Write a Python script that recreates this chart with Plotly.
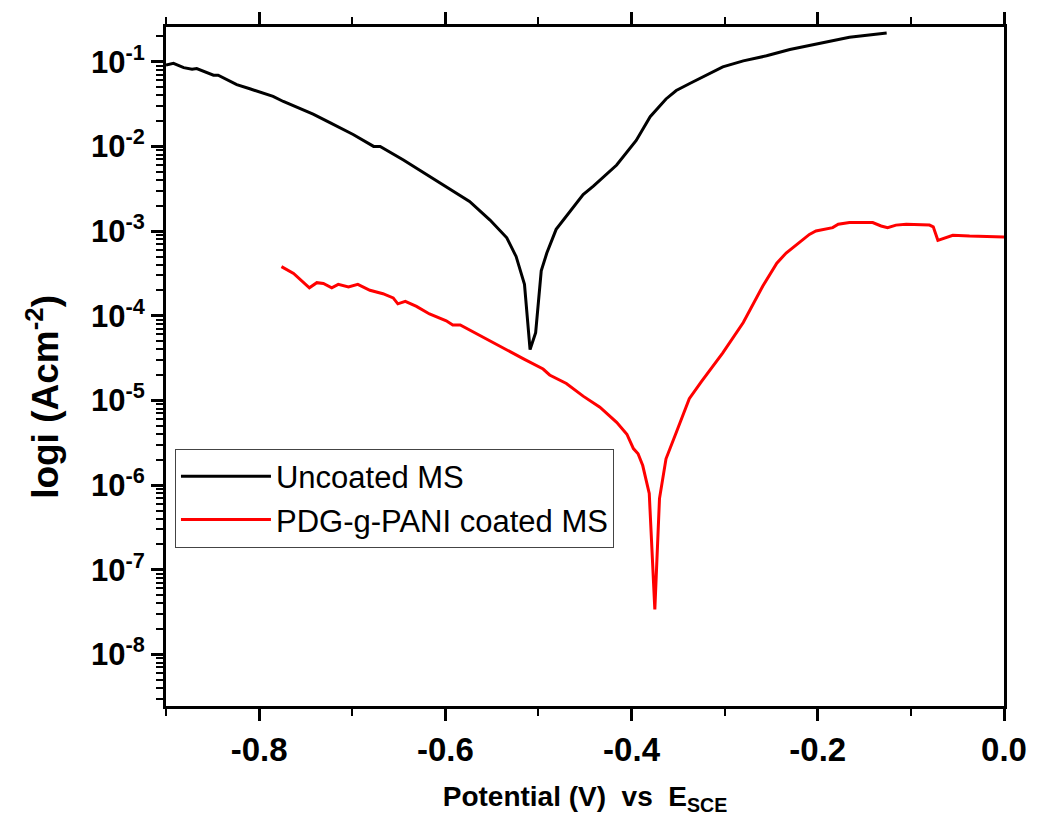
import plotly.graph_objects as go

# ---- data ----
potential_uncoated = [-0.900, -0.892, -0.881, -0.872, -0.867, -0.849, -0.844, -0.824, -0.810, -0.785,
                      -0.774, -0.742, -0.724, -0.699, -0.677, -0.670, -0.645, -0.613, -0.588, -0.574,
                      -0.552, -0.534, -0.524, -0.515, -0.509, -0.503, -0.497, -0.491, -0.481, -0.466,
                      -0.452, -0.441, -0.434, -0.416, -0.395, -0.380, -0.363, -0.352, -0.338, -0.320,
                      -0.302, -0.280, -0.255, -0.230, -0.202, -0.166, -0.126]
log_i_uncoated = [-1.04, -1.02, -1.07, -1.09, -1.08, -1.16, -1.16, -1.27, -1.32, -1.41,
                  -1.47, -1.62, -1.72, -1.86, -2.00, -2.00, -2.16, -2.38, -2.55, -2.65,
                  -2.87, -3.08, -3.30, -3.63, -4.40, -4.20, -3.47, -3.26, -2.98, -2.77,
                  -2.57, -2.47, -2.40, -2.22, -1.93, -1.65, -1.44, -1.34, -1.26, -1.16,
                  -1.06, -0.99, -0.93, -0.855, -0.79, -0.71, -0.66]

potential_coated = [-0.776, -0.763, -0.746, -0.738, -0.731, -0.722, -0.715, -0.704, -0.694, -0.681,
                    -0.667, -0.656, -0.651, -0.643, -0.631, -0.617, -0.599, -0.592, -0.584, -0.559,
                    -0.541, -0.516, -0.495, -0.488, -0.470, -0.452, -0.434, -0.416, -0.405, -0.398,
                    -0.393, -0.388, -0.381, -0.379, -0.375, -0.370, -0.363, -0.352, -0.338, -0.325,
                    -0.302, -0.280, -0.259, -0.244, -0.234, -0.209, -0.202, -0.184, -0.178, -0.166,
                    -0.141, -0.132, -0.125, -0.116, -0.105, -0.080, -0.076, -0.071, -0.066, -0.055,
                    -0.037, 0.000]
log_i_coated = [-3.42, -3.50, -3.67, -3.61, -3.62, -3.67, -3.63, -3.66, -3.63, -3.70,
                -3.74, -3.79, -3.86, -3.83, -3.89, -3.98, -4.06, -4.11, -4.11, -4.26,
                -4.36, -4.51, -4.63, -4.70, -4.80, -4.95, -5.08, -5.26, -5.40, -5.57,
                -5.63, -5.77, -6.10, -6.55, -7.47, -6.16, -5.69, -5.38, -4.98, -4.78,
                -4.44, -4.08, -3.65, -3.38, -3.26, -3.04, -3.00, -2.96, -2.92, -2.90,
                -2.90, -2.94, -2.96, -2.93, -2.92, -2.93, -2.95, -3.11, -3.09, -3.05,
                -3.06, -3.07]

x_tick_vals = [-0.8, -0.6, -0.4, -0.2, 0.0]
x_tick_text = ["-0.8", "-0.6", "-0.4", "-0.2", "0.0"]
y_decades = [-1, -2, -3, -4, -5, -6, -7, -8]
y_tick_text = ["10<sup>-1</sup>", "10<sup>-2</sup>", "10<sup>-3</sup>", "10<sup>-4</sup>",
               "10<sup>-5</sup>", "10<sup>-6</sup>", "10<sup>-7</sup>", "10<sup>-8</sup>"]

i_uncoated = [10 ** v for v in log_i_uncoated]
i_coated = [10 ** v for v in log_i_coated]
y_tick_vals = [10 ** d for d in y_decades]

FONT = "Liberation Sans, Arial, sans-serif"

fig = go.Figure()
fig.add_trace(go.Scatter(x=potential_uncoated, y=i_uncoated, mode="lines",
                         name="Uncoated MS", line=dict(color="#000000", width=3)))
fig.add_trace(go.Scatter(x=potential_coated, y=i_coated, mode="lines",
                         name="PDG-g-PANI coated MS", line=dict(color="#ff0000", width=3)))

fig.update_layout(
    width=1041, height=820,
    margin=dict(l=166, r=37, t=23, b=114),
    paper_bgcolor="white", plot_bgcolor="white",
    font=dict(family=FONT, color="black"),
    showlegend=True,
    legend=dict(x=0.0107, y=0.379, xanchor="left", yanchor="top",
                bgcolor="white", bordercolor="#444444", borderwidth=1,
                font=dict(family=FONT, size=31, color="black"),
                itemwidth=90, tracegroupgap=0),
    xaxis=dict(
        range=[-0.9, 0.0], showgrid=False, zeroline=False,
        showline=True, linecolor="black", linewidth=3, mirror="ticks",
        ticks="outside", ticklen=12, tickwidth=3, tickcolor="black",
        tickvals=x_tick_vals, ticktext=x_tick_text,
        tickfont=dict(family=FONT, size=33, color="black", weight="bold"),
        minor=dict(ticks="outside", ticklen=7, tickwidth=2, tickcolor="black", dtick=0.1),
        title=dict(text="Potential (V)\u00a0\u00a0vs\u00a0\u00a0E<sub>SCE</sub>",
                   font=dict(family=FONT, size=28, color="black", weight="bold"), standoff=20),
    ),
    yaxis=dict(
        type="log", range=[-8.61, -0.59], showgrid=False, zeroline=False,
        showline=True, linecolor="black", linewidth=3, mirror=True,
        ticks="outside", ticklen=12, tickwidth=3, tickcolor="black",
        tickvals=y_tick_vals, ticktext=y_tick_text,
        tickfont=dict(family=FONT, size=31, color="black", weight="bold"),
        minor=dict(ticks="outside", ticklen=7, tickwidth=2, tickcolor="black", dtick="D1"),
    ),
    annotations=[dict(text="logi (Acm<sup>-2</sup>)", textangle=-90,
                      xref="paper", yref="paper", x=-0.147, y=0.455,
                      xanchor="center", yanchor="middle", showarrow=False,
                      font=dict(family=FONT, size=37, color="black", weight="bold"))],
)

fig.write_html("out.html")
